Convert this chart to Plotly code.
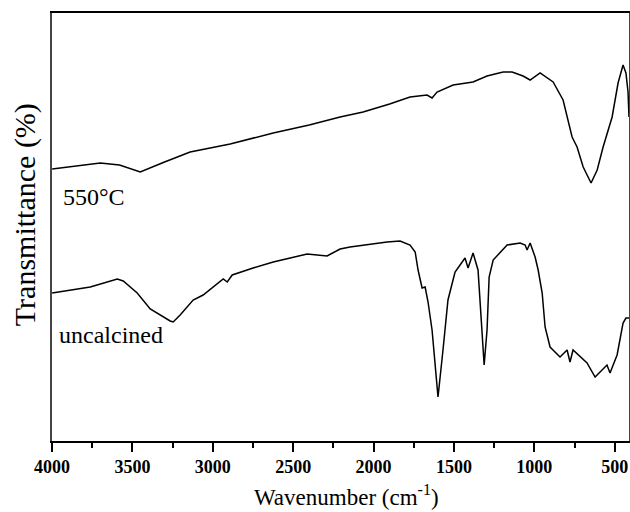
import plotly.graph_objects as go

# 550°C spectrum (wavenumber cm^-1, relative transmittance)
w_550 = [3999, 3850, 3700, 3580, 3451, 3300, 3141, 2954, 2892, 2624, 2400, 2208, 2065, 1900, 1773,
         1667, 1636, 1605, 1505, 1381, 1294, 1194, 1138, 1070, 1026, 964, 883, 821, 790, 765,
         734, 696, 647, 609, 572, 516, 479, 448, 430, 417, 411]
t_550 = [272, 275, 278, 276, 269, 279, 289, 295, 297, 308, 316, 324, 329, 337, 344,
         346, 343, 349, 356, 359, 365, 369, 369, 365, 361, 368, 359, 341, 321, 304,
         294, 274, 258, 271, 294, 324, 358, 376, 368, 349, 324]

# uncalcined spectrum
w_unc = [3999, 3762, 3594, 3557, 3470, 3389, 3265, 3246, 3203, 3122, 3060, 2935, 2910, 2879,
         2749, 2624, 2413, 2289, 2208, 2146, 1916, 1835, 1773, 1741, 1723, 1698, 1679, 1661,
         1636, 1599, 1568, 1537, 1493, 1431, 1412, 1381, 1350, 1325, 1312, 1294, 1281, 1256,
         1169, 1088, 1057, 1045, 1026, 995, 976, 951, 933, 902, 840, 796, 778, 759, 672, 622,
         548, 529, 485, 448, 430, 411]
t_unc = [148, 154, 162, 160, 148, 132, 120, 119, 126, 141, 146, 162, 159, 166,
         173, 179, 187, 185, 192, 194, 199, 200, 196, 189, 171, 153, 154, 139,
         111, 44, 91, 141, 169, 183, 173, 188, 171, 111, 76, 111, 164, 181,
         196, 198, 196, 191, 198, 184, 171, 148, 114, 94, 84, 91, 79, 91, 78, 64,
         76, 68, 86, 118, 123, 123]

x_ticks = [4000, 3500, 3000, 2500, 2000, 1500, 1000, 500]

fig = go.Figure()
fig.add_trace(go.Scatter(x=w_550, y=t_550, mode="lines",
                         line=dict(color="black", width=1.5), showlegend=False))
fig.add_trace(go.Scatter(x=w_unc, y=t_unc, mode="lines",
                         line=dict(color="black", width=1.5), showlegend=False))

serif = "Liberation Serif, Times New Roman, serif"
fig.add_annotation(x=3943, y=244, text="550°C", showarrow=False, xanchor="left",
                   yanchor="middle", font=dict(family=serif, size=24, color="black"))
fig.add_annotation(x=3968, y=106, text="uncalcined", showarrow=False, xanchor="left",
                   yanchor="middle", font=dict(family=serif, size=24, color="black"))
# axis titles
fig.add_annotation(xref="paper", yref="paper", x=0.511, y=-0.128,
                   text="Wavenumber (cm<sup>-1</sup>)", showarrow=False,
                   xanchor="center", yanchor="middle",
                   font=dict(family=serif, size=23, color="black"))
fig.add_annotation(xref="paper", yref="paper", x=-0.0468, y=0.53,
                   text="Transmittance (%)", showarrow=False, textangle=-90,
                   xanchor="center", yanchor="middle",
                   font=dict(family=serif, size=30, color="black"))

fig.update_layout(
    width=630, height=512,
    margin=dict(l=52, r=1, t=13, b=71),
    paper_bgcolor="white", plot_bgcolor="white",
    xaxis=dict(range=[4000, 411], tickvals=x_ticks, ticktext=[str(v) for v in x_ticks],
               ticks="outside", ticklen=9, tickwidth=1.5, tickcolor="black",
               minor=dict(dtick=250, ticks="outside", ticklen=5, tickwidth=1.5, tickcolor="black"),
               showline=True, linecolor="black", linewidth=1.5, mirror=True,
               showgrid=False, zeroline=False, automargin=False,
               tickfont=dict(family=serif, size=18, color="black", weight="bold")),
    yaxis=dict(range=[0, 428], showticklabels=False, ticks="",
               showline=True, linecolor="#444", linewidth=2, mirror=True,
               showgrid=False, zeroline=False, automargin=False),
)

fig.write_html("out.html", config={"displayModeBar": False},
               post_script="document.body.style.margin='0px';")
